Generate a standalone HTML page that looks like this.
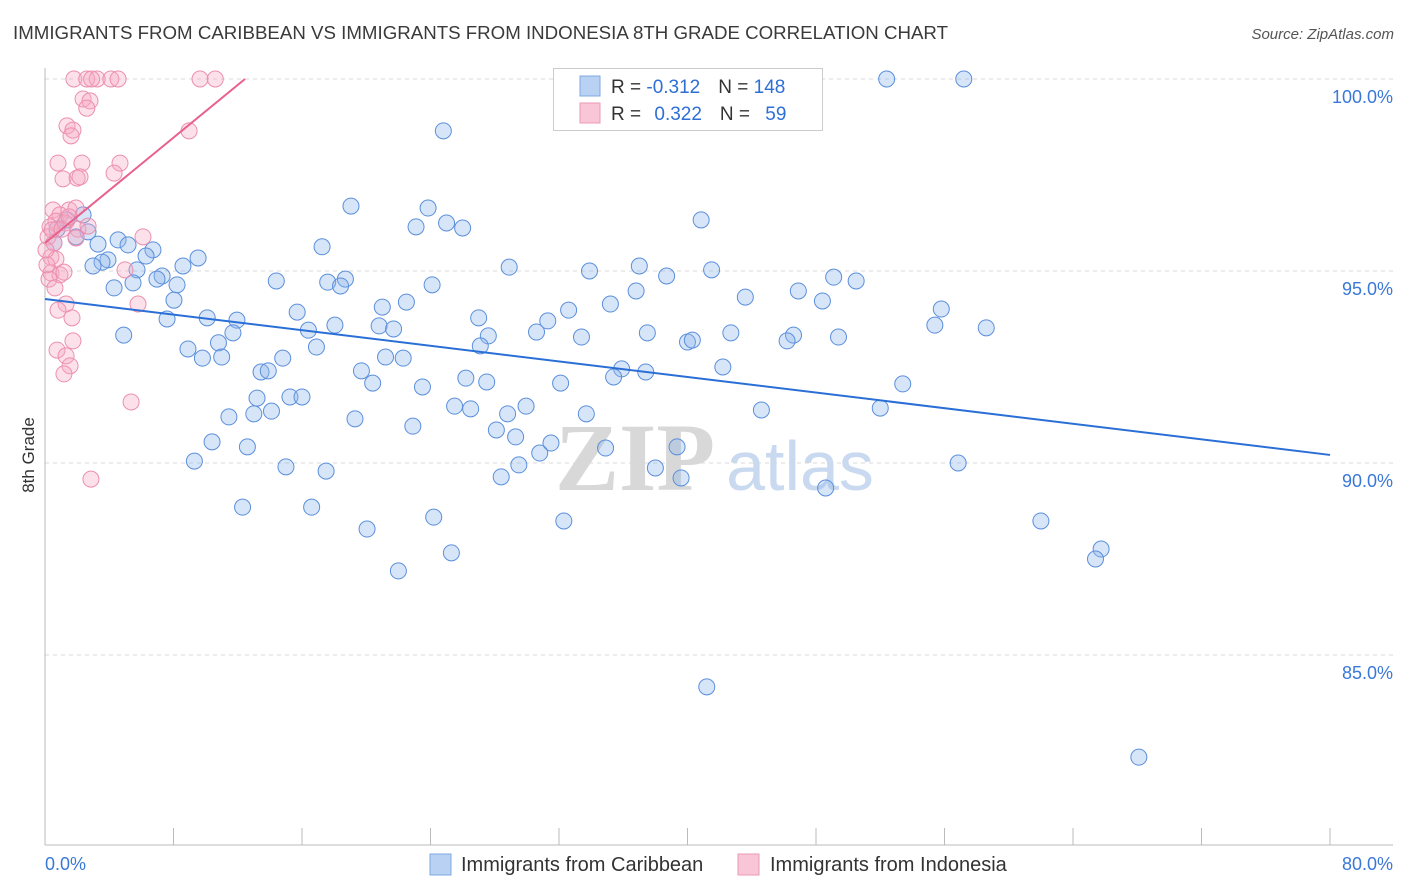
<!DOCTYPE html>
<html><head><meta charset="utf-8">
<style>
body{margin:0;background:#fff;font-family:"Liberation Sans",sans-serif;}
svg{display:block}
</style></head>
<body>
<svg id="chart" width="1406" height="892">
<text x="13" y="39" font-size="18" fill="#3a3a3a" textLength="935" lengthAdjust="spacingAndGlyphs">IMMIGRANTS FROM CARIBBEAN VS IMMIGRANTS FROM INDONESIA 8TH GRADE CORRELATION CHART</text>
<text x="1394" y="39" font-size="15" fill="#555" font-style="italic" text-anchor="end">Source: ZipAtlas.com</text>
<text transform="translate(34,455) rotate(-90)" font-size="17" fill="#333" text-anchor="middle">8th Grade</text>
<g id="grid"></g>
<g>
<text x="635" y="490" font-size="96" fill="#d8d8d8" font-family="Liberation Serif,serif" font-weight="bold" text-anchor="middle">ZIP</text>
<text x="800" y="490" font-size="70" fill="#c9d9ef" text-anchor="middle">atlas</text>
</g>
<g id="pts"></g>
<g id="lines"></g>
<g>
<rect x="553.5" y="68.5" width="269" height="62" fill="#fff" stroke="#ccc"/>
<rect x="580" y="76" width="20" height="20" fill="#b9d2f3" stroke="#7fa8e0"/>
<rect x="580" y="103" width="20" height="20" fill="#f8c6d6" stroke="#ec9ab4"/>
<text x="611" y="93" font-size="19" fill="#333">R = <tspan fill="#2e6fd6">-0.312</tspan><tspan dx="18">N = </tspan><tspan fill="#2e6fd6">148</tspan></text>
<text x="611" y="120" font-size="19" fill="#333">R = <tspan fill="#2e6fd6" dx="8">0.322</tspan><tspan dx="18">N = </tspan><tspan fill="#2e6fd6" dx="10">59</tspan></text>
</g>
<g>
<rect x="430" y="854" width="21" height="21" fill="#b9d2f3" stroke="#7fa8e0"/>
<text x="461" y="871" font-size="20" fill="#333">Immigrants from Caribbean</text>
<rect x="738" y="854" width="21" height="21" fill="#f8c6d6" stroke="#ec9ab4"/>
<text x="770" y="871" font-size="20" fill="#333">Immigrants from Indonesia</text>
</g>
</svg>
<script>
const yTicks=[100,95,90,85];
const yTickLabels=["100.0%","95.0%","90.0%","85.0%"];
const xTicks=[0,8,16,24,32,40,48,56,64,72,80];
const xEndLabels=["0.0%","80.0%"];
const caribX=[52.4,57.2,24.8,19.05,23.85,40.85,23.1,25.0,26.0,2.37,1.37,0.75,2.68,1.93,0.56,4.55,3.3,5.17,6.72,6.29,9.53,17.25,3.92,3.55,2.99,5.73,7.29,8.59,28.9,33.9,37.0,38.7,41.5,49.1,50.5,14.4,17.6,18.7,18.4,24.1,4.3,5.48,6.97,8.22,36.8,43.6,46.9,48.4,21.0,22.5,8.03,15.7,27.0,31.3,32.6,35.2,55.8,55.4,58.6,7.6,10.1,11.95,18.05,16.4,20.8,21.7,11.7,27.6,30.6,33.4,37.5,42.7,46.6,49.4,4.9,40.0,40.3,46.2,10.8,8.9,16.9,27.1,9.8,11.0,14.8,21.2,22.3,13.45,13.9,19.7,20.4,26.2,27.5,32.1,35.9,35.4,37.4,42.2,53.4,23.5,13.2,15.25,16.0,25.5,26.5,29.95,33.7,28.8,44.6,52.0,11.45,14.1,13.0,19.3,22.9,28.1,29.3,31.5,30.8,10.4,12.6,34.9,39.35,9.3,15.0,17.5,29.5,28.4,38.0,39.6,56.85,48.6,12.3,16.6,24.2,32.3,20.05,62.0,25.3,65.75,65.4,22.0,41.2,68.1];
const caribY=[100,100,98.65,96.69,96.64,96.33,96.15,96.25,96.12,96.46,96.33,96.09,96.02,95.89,95.73,95.81,95.70,95.68,95.55,95.39,95.34,95.63,95.29,95.23,95.13,95.03,94.87,95.13,95.10,95.0,95.13,94.87,95.03,94.84,94.74,94.74,94.71,94.79,94.61,94.64,94.56,94.69,94.79,94.64,94.48,94.32,94.48,94.22,94.06,94.19,94.24,93.93,93.78,93.70,93.98,94.14,94.01,93.59,93.52,93.75,93.78,93.72,93.59,93.46,93.57,93.49,93.39,93.31,93.41,93.28,93.39,93.39,93.33,93.28,93.33,93.15,93.20,93.18,93.13,92.97,93.02,93.05,92.73,92.76,92.73,92.76,92.73,92.37,92.40,92.40,92.08,92.21,92.11,92.08,92.45,92.24,92.37,92.50,92.06,91.98,91.69,91.72,91.72,91.48,91.41,91.48,91.28,91.28,91.38,91.43,91.20,91.35,91.28,91.15,90.96,90.86,90.68,90.52,90.26,90.55,90.42,90.39,90.42,90.05,89.90,89.79,89.95,89.64,89.87,89.61,90.0,89.35,88.85,88.85,88.59,88.49,88.28,88.49,87.66,87.76,87.50,87.19,84.17,82.34];
const indoX=[1.8,2.6,3.25,2.9,4.1,4.55,9.65,10.6,2.37,2.8,2.6,1.37,1.74,1.62,8.97,0.81,2.3,4.67,4.3,1.12,2.0,2.18,0.5,1.5,1.93,0.93,0.68,0.31,1.25,2.05,6.1,0.19,0.56,1.93,0.37,0.68,4.98,0.37,0.93,1.18,0.25,0.62,1.31,5.79,0.81,1.68,1.74,0.75,1.31,1.56,1.18,5.36,2.86,0.12,0.06,0.44,1.06,2.68,1.5];
const indoY=[100,100,100,100,100,100,100,100,99.48,99.43,99.24,98.78,98.67,98.52,98.65,97.81,97.81,97.81,97.55,97.40,97.42,97.45,96.59,96.59,96.64,96.46,96.30,96.15,96.25,96.09,95.89,95.89,95.73,95.86,95.36,95.31,95.03,94.95,94.90,94.97,94.79,94.56,94.14,94.14,93.98,93.78,93.18,92.94,92.79,92.53,92.32,91.59,89.58,95.16,95.55,96.07,96.09,96.17,96.41];
const caribLine=[[0,94.27],[80,90.21]];
const indoLine=[[0,95.73],[12.45,100]];

const X0=45,X1=1330,Y100=79,PXPCT=38.4;
const sx=v=>X0+(X1-X0)*v/80;
const sy=v=>Y100+(100-v)*PXPCT;
const NS="http://www.w3.org/2000/svg";
function mk(tag,attrs,parent){const e=document.createElementNS(NS,tag);for(const k in attrs)e.setAttribute(k,attrs[k]);parent.appendChild(e);return e;}
const grid=document.getElementById('grid');
yTicks.forEach((t,i)=>{
  const l=mk('line',{x1:X0,x2:1393,y1:sy(t),y2:sy(t),stroke:'#d8d8d8','stroke-dasharray':'4,4'},grid);
  
  
  const tx=mk('text',{x:1393,y:sy(t)+24,'font-size':18,fill:'#3a78d8','text-anchor':'end'},grid);
  tx.textContent=yTickLabels[i];
  
  
});
const ax=mk('line',{x1:X0,x2:X0,y1:68,y2:845,stroke:'#bbb'},grid);


const bx=mk('line',{x1:X0,x2:1393,y1:845,y2:845,stroke:'#bbb'},grid);


xTicks.forEach(t=>{
  const l=mk('line',{x1:sx(t),x2:sx(t),y1:828,y2:845,stroke:'#bbb'},grid);
  
  
});
[[0,'start'],[80,'end']].forEach((p,i)=>{
  const tx=mk('text',{x:i?1393:45,y:870,'font-size':18,fill:'#3a78d8','text-anchor':p[1]},grid);
  tx.textContent=xEndLabels[i];
  
  
});
const pts=document.getElementById('pts');
caribX.forEach((x,i)=>{
  const c=mk('circle',{cx:sx(x),cy:sy(caribY[i]),r:8,fill:'rgba(140,180,235,0.35)',stroke:'#5b8fdc','stroke-width':1},pts);
  
  
});
indoX.forEach((x,i)=>{
  const c=mk('circle',{cx:sx(x),cy:sy(indoY[i]),r:8,fill:'rgba(245,170,195,0.35)',stroke:'#ec8fae','stroke-width':1},pts);
  
  
});
const lines=document.getElementById('lines');
const l1=mk('line',{x1:sx(caribLine[0][0]),y1:sy(caribLine[0][1]),x2:sx(caribLine[1][0]),y2:sy(caribLine[1][1]),stroke:'#2a6fd6','stroke-width':2},lines);


const l2=mk('line',{x1:sx(indoLine[0][0]),y1:sy(indoLine[0][1]),x2:sx(indoLine[1][0]),y2:sy(indoLine[1][1]),stroke:'#e8608c','stroke-width':2},lines);


</script>
</body></html>
